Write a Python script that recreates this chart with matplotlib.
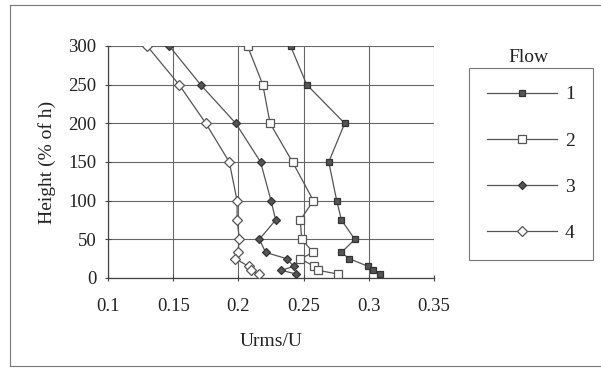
import matplotlib
matplotlib.use("Agg")
import matplotlib.pyplot as plt
from matplotlib.lines import Line2D

plt.rcParams['font.family'] = ['Liberation Serif', 'DejaVu Serif']

heights = [300, 250, 200, 150, 100, 75, 50, 33, 25, 15, 10, 5]
flow1 = [0.240, 0.2524, 0.2815, 0.2693, 0.2754, 0.279, 0.2893, 0.279, 0.285, 0.2995, 0.3036, 0.3088]
flow2 = [0.207, 0.2187, 0.2243, 0.2415, 0.2575, 0.2475, 0.2485, 0.2575, 0.2475, 0.258, 0.261, 0.2765]
flow3 = [0.147, 0.171, 0.198, 0.217, 0.225, 0.2286, 0.216, 0.221, 0.237, 0.2425, 0.233, 0.2445]
flow4 = [0.130, 0.1545, 0.175, 0.193, 0.199, 0.199, 0.2008, 0.1995, 0.1975, 0.208, 0.210, 0.2156]
labels = ['1', '2', '3', '4']
xticks = [0.1, 0.15, 0.2, 0.25, 0.3, 0.35]
xtick_labels = ['0.1', '0.15', '0.2', '0.25', '0.3', '0.35']
yticks = [0, 50, 100, 150, 200, 250, 300]

W, H = 601, 371
fig = plt.figure(figsize=(W / 100, H / 100), dpi=100)

# outer chart border: top, left, bottom (right side runs off the image)
bx0, bx1, by0, by1 = 10 / W, 1.0, 1 - 366 / H, 1 - 5 / H
for xs, ys in [([bx0, bx1], [by1, by1]), ([bx0, bx0], [by0, by1]), ([bx0, bx1], [by0, by0])]:
    fig.add_artist(Line2D(xs, ys, transform=fig.transFigure, color='#777777', linewidth=0.8))

ax = fig.add_axes([108 / W, 1 - 278 / H, (434 - 108) / W, (278 - 46) / H])

line_col = '#555555'
styles = [
    dict(marker='s', markersize=5, markerfacecolor='#555555', markeredgecolor='#333333'),
    dict(marker='s', markersize=6, markerfacecolor='white', markeredgecolor='#555555'),
    dict(marker='D', markersize=3.8, markerfacecolor='#555555', markeredgecolor='#333333'),
    dict(marker='D', markersize=5.0, markerfacecolor='white', markeredgecolor='#555555'),
]
series = [flow1, flow2, flow3, flow4]
handles = []
for vals, st, lab in zip(series, styles, labels):
    h, = ax.plot(vals, heights, color=line_col, linewidth=0.9, markeredgewidth=0.9,
                 label=lab, zorder=3, **st)
    handles.append(h)

txt = '#222222'
ax.set_xlim(0.1, 0.35)
ax.set_ylim(0, 300)
ax.set_xticks(xticks)
ax.set_xticklabels(xtick_labels)
ax.set_yticks(yticks)
ax.grid(True, color='#666666', linewidth=0.8)
ax.set_axisbelow(True)
for s in ['top', 'right']:
    ax.spines[s].set_visible(False)
for s in ['left', 'bottom']:
    ax.spines[s].set_color('#444444')
    ax.spines[s].set_linewidth(0.9)
ax.tick_params(direction='inout', length=5, width=0.8, color='#444444',
               labelsize=13.5, labelcolor=txt)
ax.tick_params(axis='x', pad=12)
ax.tick_params(axis='y', pad=6)
ax.set_xlabel('Urms/U', fontsize=14, color=txt, labelpad=13)
ax.set_ylabel('Height (% of h)', fontsize=14, color=txt, labelpad=9)

leg = fig.legend(handles=handles, labels=labels, loc='upper left',
                 bbox_to_anchor=(469 / W, 1 - 67.5 / H), fontsize=14,
                 handlelength=3.6, handletextpad=0.4, labelspacing=1.47,
                 borderpad=0.94, borderaxespad=0, frameon=True, fancybox=False)
leg.get_frame().set_edgecolor('#555555')
leg.get_frame().set_linewidth(0.8)
for t in leg.get_texts():
    t.set_color(txt)
fig.text(528 / W, 1 - 58 / H, 'Flow', ha='center', va='center', fontsize=14, color=txt)

fig.savefig('out.png', dpi=100)
